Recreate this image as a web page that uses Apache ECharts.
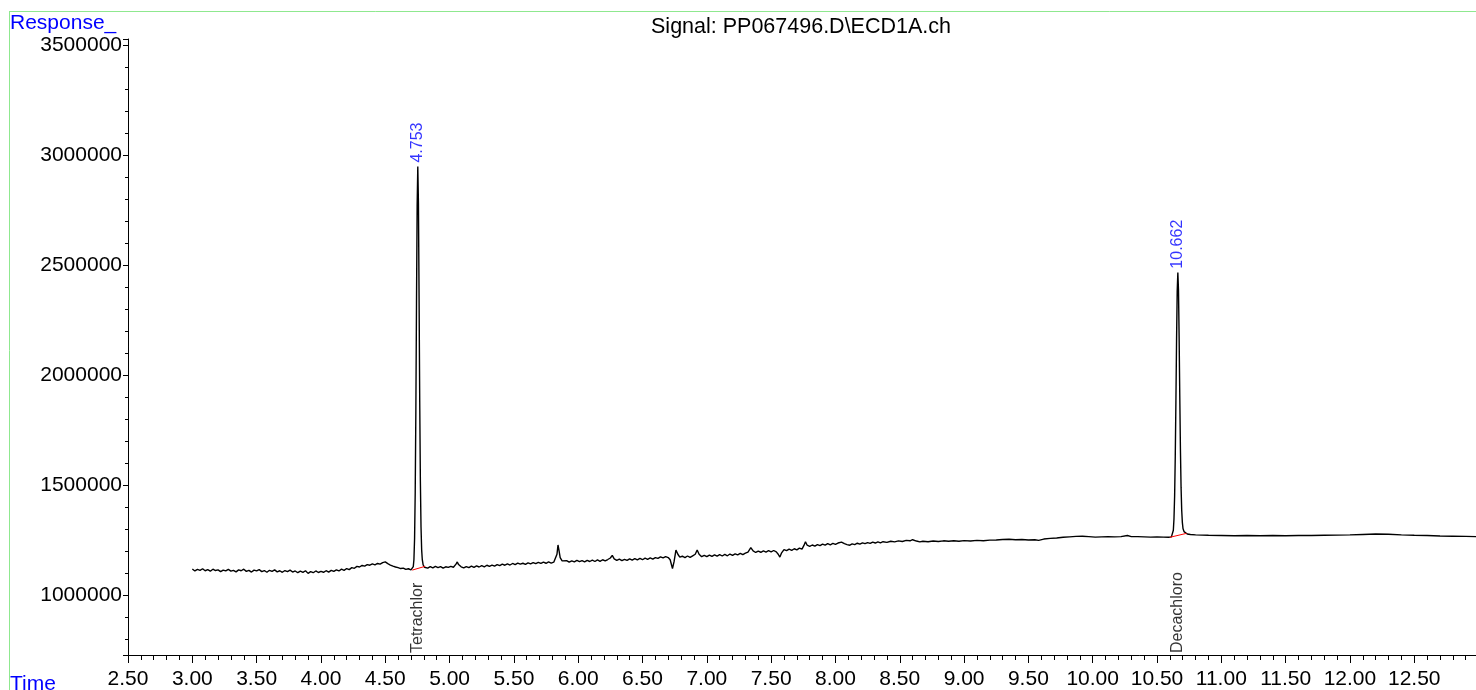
<!DOCTYPE html>
<html>
<head>
<meta charset="utf-8">
<script src="https://cdn.jsdelivr.net/npm/echarts@6/dist/echarts.min.js"></script>
<style>
html,body{margin:0;padding:0;background:#fff;}
#c{width:1476px;height:690px;}
</style>
</head>
<body>
<div id="c"></div>
<script>
// ---- Data: [time (min), response] ----
const earlyTrace = [
[3.00,1118000],[3.02,1109000],[3.04,1116000],[3.06,1112000],[3.08,1119000],[3.10,1110000],[3.12,1115000],[3.14,1108000],
[3.16,1117000],[3.18,1111000],[3.20,1114000],[3.22,1106000],[3.24,1113000],[3.26,1109000],[3.28,1116000],[3.30,1108000],
[3.32,1112000],[3.34,1105000],[3.36,1114000],[3.38,1110000],[3.40,1117000],[3.42,1107000],[3.44,1112000],[3.46,1104000],
[3.48,1113000],[3.50,1109000],[3.52,1115000],[3.54,1106000],[3.56,1111000],[3.58,1103000],[3.60,1112000],[3.62,1107000],
[3.64,1114000],[3.66,1105000],[3.68,1110000],[3.70,1103000],[3.72,1111000],[3.74,1106000],[3.76,1113000],[3.78,1104000],
[3.80,1109000],[3.82,1101000],[3.84,1108000],[3.86,1103000],[3.88,1110000],[3.90,1098000],[3.92,1106000],[3.94,1101000],
[3.96,1109000],[3.98,1102000],[4.00,1107000],[4.02,1103000],[4.04,1110000],[4.06,1104000],[4.08,1112000],[4.10,1107000],
[4.12,1114000],[4.14,1109000],[4.16,1117000],[4.18,1112000],[4.20,1120000],[4.22,1115000],[4.24,1124000],[4.26,1121000],
[4.28,1130000],[4.30,1127000],[4.32,1134000],[4.34,1131000],[4.36,1138000],[4.38,1135000],[4.40,1141000],[4.42,1137000],
[4.44,1143000],[4.46,1140000],[4.48,1147000],[4.50,1150000],[4.52,1142000],[4.54,1136000],[4.56,1131000],[4.58,1127000],
[4.60,1124000],[4.62,1120000],[4.64,1122000],[4.66,1116000],[4.68,1119000],[4.70,1114000]
];
const peak1Trace = [
[4.713,1119000],[4.718,1129000],[4.723,1161000],[4.728,1256000],[4.733,1468000],[4.738,1840000],[4.743,2328000],
[4.748,2768000],[4.753,2947000],[4.758,2780000],[4.763,2350000],[4.768,1880000],[4.773,1520000],[4.778,1310000],
[4.783,1205000],[4.788,1160000],[4.795,1136000],[4.805,1126000]
];
const midTrace = [
[4.815,1127000],[4.83,1122000],[4.85,1129000],[4.87,1123000],[4.89,1130000],[4.91,1124000],[4.93,1129000],[4.95,1122000],
[4.97,1128000],[4.99,1125000],[5.01,1130000],[5.03,1126000],[5.05,1140000],[5.06,1150000],[5.07,1138000],[5.09,1128000],
[5.11,1123000],[5.13,1129000],[5.15,1124000],[5.17,1131000],[5.19,1125000],[5.21,1132000],[5.23,1127000],[5.25,1133000],
[5.27,1128000],[5.29,1135000],[5.31,1130000],[5.33,1136000],[5.35,1131000],[5.37,1138000],[5.39,1133000],[5.41,1140000],
[5.43,1135000],[5.45,1141000],[5.47,1136000],[5.49,1143000],[5.51,1138000],[5.53,1145000],[5.55,1140000],[5.57,1144000],
[5.59,1139000],[5.61,1146000],[5.63,1141000],[5.65,1147000],[5.67,1142000],[5.69,1148000],[5.71,1143000],[5.73,1149000],
[5.75,1144000],[5.77,1150000],[5.79,1145000],[5.81,1149000],[5.825,1150000],[5.835,1185000],[5.843,1227000],[5.85,1205000],
[5.86,1170000],[5.875,1155000],[5.89,1150000],[5.91,1156000],[5.93,1149000],[5.95,1155000],[5.97,1150000],[5.99,1157000],
[6.01,1151000],[6.03,1156000],[6.05,1150000],[6.07,1157000],[6.09,1152000],[6.11,1158000],[6.13,1152000],[6.15,1159000],
[6.17,1153000],[6.19,1160000],[6.21,1155000],[6.23,1161000],[6.25,1168000],[6.265,1180000],[6.28,1164000],[6.30,1157000],
[6.32,1163000],[6.34,1156000],[6.36,1162000],[6.38,1157000],[6.40,1164000],[6.42,1158000],[6.44,1165000],[6.46,1159000],
[6.48,1166000],[6.50,1160000],[6.52,1167000],[6.54,1162000],[6.56,1168000],[6.58,1163000],[6.60,1170000],[6.62,1166000],
[6.64,1173000],[6.66,1168000],[6.68,1174000],[6.70,1170000],[6.715,1160000],[6.733,1120000],[6.745,1150000],[6.76,1204000],
[6.775,1185000],[6.79,1172000],[6.81,1176000],[6.83,1170000],[6.85,1177000],[6.87,1171000],[6.89,1178000],[6.91,1185000],
[6.925,1204000],[6.94,1185000],[6.96,1174000],[6.98,1180000],[7.00,1174000],[7.02,1181000],[7.04,1175000],[7.06,1182000],
[7.08,1176000],[7.10,1183000],[7.12,1177000],[7.14,1184000],[7.16,1178000],[7.18,1186000],[7.20,1180000],[7.22,1187000],
[7.24,1182000],[7.26,1189000],[7.28,1183000],[7.30,1190000],[7.32,1195000],[7.342,1215000],[7.36,1200000],[7.38,1193000],
[7.40,1199000],[7.42,1194000],[7.44,1200000],[7.46,1195000],[7.48,1201000],[7.50,1196000],[7.52,1202000],[7.54,1196000],
[7.555,1185000],[7.568,1172000],[7.58,1190000],[7.60,1206000],[7.62,1201000],[7.64,1208000],[7.66,1203000],[7.68,1210000],
[7.70,1205000],[7.72,1213000],[7.74,1208000],[7.755,1225000],[7.767,1242000],[7.78,1226000],[7.80,1221000],[7.82,1227000],
[7.84,1222000],[7.86,1229000],[7.88,1224000],[7.90,1231000],[7.92,1226000],[7.94,1233000],[7.96,1228000],[7.98,1234000],
[8.00,1230000],[8.02,1236000],[8.047,1240000],[8.07,1233000],[8.09,1229000],[8.112,1226000],[8.13,1232000],[8.15,1229000],
[8.17,1235000],[8.19,1231000],[8.21,1237000],[8.23,1233000],[8.25,1238000],[8.27,1234000],[8.29,1240000],[8.31,1236000],
[8.33,1241000],[8.35,1237000],[8.37,1242000],[8.40,1239000],[8.43,1244000],[8.46,1241000],[8.49,1246000],[8.52,1243000],
[8.55,1248000],[8.58,1246000],[8.60,1251000],[8.63,1245000],[8.656,1241000],[8.68,1244000],[8.72,1242000],[8.76,1245000],
[8.80,1243000],[8.84,1246000],[8.88,1244000],[8.92,1246000],[8.96,1244000],[9.00,1247000],[9.05,1245000],[9.10,1248000],
[9.15,1246000],[9.20,1249000],[9.25,1250000],[9.30,1252000],[9.35,1253000],[9.40,1251000],[9.45,1252000],[9.50,1250000],
[9.55,1251000],[9.58,1248000],[9.62,1254000],[9.67,1257000],[9.72,1259000],[9.77,1262000],[9.82,1264000],[9.87,1266000],
[9.92,1267000],[9.97,1265000],[10.02,1263000],[10.07,1264000],[10.12,1265000],[10.17,1264000],[10.22,1265000],[10.27,1270000],
[10.30,1265000],[10.35,1265000],[10.40,1264000],[10.45,1263000],[10.50,1264000],[10.55,1263000],[10.59,1262000]
];
const peak2Trace = [
[10.612,1264000],[10.622,1273000],[10.627,1294000],[10.632,1346000],[10.637,1451000],[10.642,1631000],[10.647,1880000],
[10.652,2157000],[10.657,2379000],[10.662,2465000],[10.667,2385000],[10.672,2170000],[10.677,1905000],[10.682,1665000],
[10.687,1490000],[10.692,1385000],[10.697,1330000],[10.702,1302000],[10.710,1288000],[10.720,1281000]
];
const lateTrace = [
[10.735,1277000],[10.76,1275000],[10.80,1273000],[10.85,1272000],[10.90,1271000],[11.00,1270000],[11.10,1269000],
[11.20,1270000],[11.30,1269000],[11.40,1270000],[11.50,1269000],[11.60,1270000],[11.70,1270000],[11.80,1271000],
[11.90,1272000],[12.00,1273000],[12.10,1275000],[12.20,1277000],[12.30,1276000],[12.40,1273000],[12.50,1271000],
[12.60,1270000],[12.70,1268000],[12.80,1267000],[12.90,1266000],[12.98,1265000]
];
// integration baselines (red)
const baseline1 = [[4.71,1113000],[4.81,1130000]];
const baseline2 = [[10.60,1262000],[10.73,1280000]];
// peak annotations
const peakTimes = [4.753, 10.662];
const peakHeights = [2947000, 2465000];
const peakLabels = ['4.753', '10.662'];
const compoundNames = ['Tetrachlor', 'Decachloro'];
// axes
const xMin = 2.5, xMax = 12.98, xStep = 0.5;
const yMin = 727000, yMax = 3527000;

const FONT = '"Liberation Sans", Arial, sans-serif';
const trace = [].concat(earlyTrace, peak1Trace, midTrace, peak2Trace, lateTrace);

const chart = echarts.init(document.getElementById('c'), null, {renderer: 'canvas'});
chart.setOption({
  animation: false,
  backgroundColor: '#fff',
  grid: {left: 128, right: 0, top: 39, bottom: 35, containLabel: false},
  xAxis: {
    type: 'value', min: xMin, max: xMax, interval: xStep,
    axisLine: {show: true, onZero: false, lineStyle: {color: '#000', width: 1}},
    axisTick: {show: true, length: 8, lineStyle: {color: '#000'}},
    minorTick: {show: true, splitNumber: 5, length: 5, lineStyle: {color: '#000'}},
    axisLabel: {color: '#000', fontSize: 21, fontFamily: FONT, margin: 14,
      showMaxLabel: false, formatter: v => v.toFixed(2)},
    splitLine: {show: false}
  },
  yAxis: {
    type: 'value', min: yMin, max: yMax, splitNumber: 5,
    axisLine: {show: true, onZero: false, lineStyle: {color: '#000', width: 1}},
    axisTick: {show: true, length: 5, lineStyle: {color: '#000'}},
    minorTick: {show: true, splitNumber: 5, length: 3, lineStyle: {color: '#000'}},
    axisLabel: {color: '#000', fontSize: 21, fontFamily: FONT, margin: 6,
      showMinLabel: false, showMaxLabel: false, formatter: v => String(v)},
    splitLine: {show: false}
  },
  graphic: [
    {type: 'line', shape: {x1: 9, y1: 11.5, x2: 1476, y2: 11.5}, style: {stroke: '#8fe88f', lineWidth: 1}},
    {type: 'line', shape: {x1: 9.5, y1: 11, x2: 9.5, y2: 690}, style: {stroke: '#8fe88f', lineWidth: 1}},
    {type: 'text', x: 10, y: 23, style: {text: 'Response_', fill: '#0000ff', font: '21px ' + FONT, verticalAlign: 'middle', align: 'left'}},
    {type: 'text', x: 10, y: 684, style: {text: 'Time', fill: '#0000ff', font: '21px ' + FONT, verticalAlign: 'middle', align: 'left'}},
    {type: 'text', x: 801, y: 27, style: {text: 'Signal: PP067496.D\\ECD1A.ch', fill: '#000', font: '21.5px ' + FONT, verticalAlign: 'middle', align: 'center'}}
  ],
  series: [
    {
      type: 'line', data: trace, symbol: 'none', showSymbol: false,
      lineStyle: {color: '#000', width: 1.4}, z: 2, silent: true
    },
    {
      type: 'line', data: baseline1, symbol: 'none', lineStyle: {color: '#ff0000', width: 1}, z: 3, silent: true
    },
    {
      type: 'line', data: baseline2, symbol: 'none', lineStyle: {color: '#ff0000', width: 1}, z: 3, silent: true
    },
    {
      type: 'scatter', symbolSize: 0, clip: false, silent: true,
      data: peakTimes.map((t, i) => [t, peakHeights[i]]),
      label: {show: true, position: 'top', distance: 4, rotate: 90, align: 'left', verticalAlign: 'middle',
        color: '#0000ff', fontSize: 16, fontFamily: FONT, formatter: p => peakLabels[p.dataIndex]}
    },
    {
      type: 'scatter', symbolSize: 0, clip: false, silent: true,
      data: peakTimes.map(t => [t, yMin]),
      label: {show: true, position: 'top', distance: 2, rotate: 90, align: 'left', verticalAlign: 'middle',
        color: '#000', fontSize: 16, fontFamily: FONT, formatter: p => compoundNames[p.dataIndex]}
    }
  ]
});
</script>
</body>
</html>
